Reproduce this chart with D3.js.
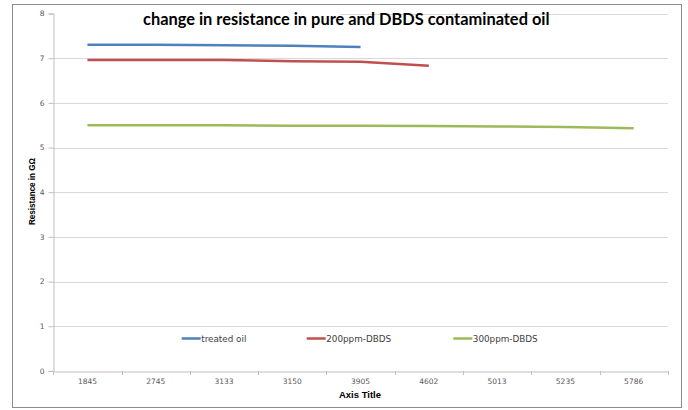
<!DOCTYPE html>
<html><head><meta charset="utf-8">
<script src="https://cdn.jsdelivr.net/npm/d3@7"></script>
<style>body{margin:0;background:#fff}svg{display:block}</style>
</head><body>
<svg id="c" width="688" height="410"></svg>
<script>
const categories = ["1845","2745","3133","3150","3905","4602","5013","5235","5786"];
const treatedOil = [7.30, 7.30, 7.29, 7.28, 7.25];
const ppm200 = [6.96, 6.96, 6.96, 6.93, 6.92, 6.83];
const ppm300 = [5.50, 5.50, 5.50, 5.49, 5.49, 5.48, 5.47, 5.46, 5.43];
const yTicks = [0,1,2,3,4,5,6,7,8];
const seriesNames = ["treated oil","200ppm-DBDS","300ppm-DBDS"];
const colors = ["#4f81bd","#c0504d","#9bbb59"];
const title = "change in resistance in pure and DBDS contaminated oil";
const xTitle = "Axis Title";
const yTitle = "Resistance in GΩ";

const svg = d3.select("#c");
const L = 53.3, R = 667.8, T = 13.5, B = 370.9;
const x = d3.scaleBand().domain(categories).range([L, R]).padding(0);
const y = d3.scaleLinear().domain([0, 8]).range([B, T]);

// outer border
svg.append("rect").attr("x", 12.5).attr("y", 4.5).attr("width", 669).attr("height", 403)
  .attr("fill", "#fff").attr("stroke", "#8c8c8c").attr("stroke-width", 1);

// gridlines
svg.append("g").selectAll("line").data(yTicks.filter(d => d > 0)).join("line")
  .attr("x1", L).attr("x2", R).attr("y1", d => Math.round(y(d)) + 0.5).attr("y2", d => Math.round(y(d)) + 0.5)
  .attr("stroke", "#d9d9d9").attr("stroke-width", 1);

// title background (covers part of top gridline as in reference)
svg.append("rect").attr("x", L + 1).attr("y", 8).attr("width", 340 - L - 1).attr("height", 12).attr("fill", "#fff");

// y axis
const yAxis = svg.append("g").attr("transform", `translate(${Math.round(L) + 0.5},0)`)
  .call(d3.axisLeft(y).tickValues(yTicks).tickSize(5).tickPadding(4).tickFormat(d3.format("d")));
yAxis.select(".domain").attr("stroke", "#bfbfbf");
yAxis.selectAll(".tick line").attr("stroke", "#bfbfbf");
yAxis.selectAll("text").attr("font-family", "DejaVu Sans").attr("font-size", 7.5).attr("fill", "#595959");

// x axis
const xAxis = svg.append("g").attr("transform", `translate(0,${Math.round(B) + 0.5})`)
  .call(d3.axisBottom(x).tickSize(0).tickPadding(7));
xAxis.select(".domain").attr("stroke", "#bfbfbf");
xAxis.selectAll("text").attr("font-family", "DejaVu Sans").attr("font-size", 7.5).attr("fill", "#595959");
// category boundary tick marks
svg.append("g").selectAll("line").data(d3.range(categories.length + 1)).join("line")
  .attr("x1", i => Math.round(L + i * x.bandwidth()) + 0.5).attr("x2", i => Math.round(L + i * x.bandwidth()) + 0.5)
  .attr("y1", Math.round(B)).attr("y2", Math.round(B) + 4)
  .attr("stroke", "#bfbfbf");

// series lines
const allSeries = [treatedOil, ppm200, ppm300];
const line = d3.line().x((d, i) => x(categories[i]) + x.bandwidth() / 2).y(d => y(d));
allSeries.forEach((s, k) => {
  svg.append("path").datum(s).attr("d", line).attr("fill", "none")
    .attr("stroke", colors[k]).attr("stroke-width", 2.5).attr("stroke-linejoin", "round");
});

// legend
const legX = [181.7, 306.7, 453.3];
const legY = 338.5;
seriesNames.forEach((n, k) => {
  svg.append("line").attr("x1", legX[k]).attr("x2", legX[k] + 19).attr("y1", legY).attr("y2", legY)
    .attr("stroke", colors[k]).attr("stroke-width", 2.5);
  svg.append("text").attr("x", legX[k] + 19.5).attr("y", legY + 3).text(n)
    .attr("font-family", "DejaVu Sans").attr("font-size", 8.8).attr("fill", "#404040");
});

// title
const t = svg.append("text").attr("x", 143).attr("y", 25).text(title)
  .attr("font-family", "Lato").attr("font-weight", "bold").attr("font-size", 16).attr("fill", "#000");
const w = t.node().getComputedTextLength();
t.attr("font-size", 16 * 407 / w);

// axis titles
svg.append("text").attr("x", 360).attr("y", 397.5).attr("text-anchor", "middle").text(xTitle)
  .attr("font-family", "Liberation Sans").attr("font-weight", "bold").attr("font-size", 9.5).attr("fill", "#000");
svg.append("text").attr("transform", "translate(34.5,191.5) rotate(-90)").attr("text-anchor", "middle").text(yTitle)
  .attr("font-family", "Liberation Sans").attr("font-weight", "bold").attr("font-size", 8.5).attr("fill", "#000")
  .attr("textLength", 67).attr("lengthAdjust", "spacingAndGlyphs");
</script>
</body></html>
